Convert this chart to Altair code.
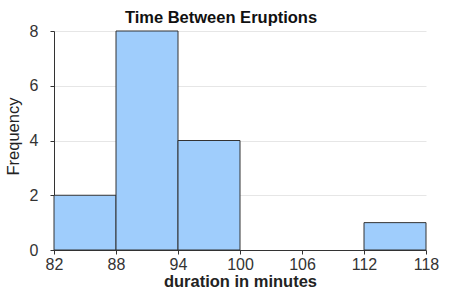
import altair as alt
import pandas as pd

bin_start = [82, 88, 94, 100, 106, 112]
bin_end = [88, 94, 100, 106, 112, 118]
counts = [2, 8, 4, 0, 0, 1]
x_ticks = [82, 88, 94, 100, 106, 112, 118]
y_ticks = [0, 2, 4, 6, 8]

df = pd.DataFrame({"start": bin_start, "end": bin_end, "count": counts})
df = df[df["count"] > 0]

font = "Liberation Sans"

chart = alt.Chart(df).mark_rect(
    fill="#9fcdfc", stroke="#333333", strokeWidth=1
).encode(
    x=alt.X("start:Q", scale=alt.Scale(domain=[82, 118], nice=False, zero=False),
            axis=alt.Axis(values=x_ticks, title="duration in minutes", grid=False,
                          labelFontSize=16, labelColor="#333333", labelFont=font,
                          titleFont=font, titleFontSize=16.5, titleFontWeight="bold",
                          titleColor="#222222", domainColor="#333333", tickColor="#333333",
                          tickSize=4, labelPadding=2, titlePadding=1, labelFlush=False)),
    x2="end:Q",
    y=alt.Y("count:Q", scale=alt.Scale(domain=[0, 8], nice=False),
            axis=alt.Axis(values=y_ticks, title="Frequency", grid=True, gridColor="#e6e6e6",
                          labelFontSize=16, labelColor="#333333", labelFont=font,
                          titleFont=font, titleFontSize=16.5, titleFontWeight="normal",
                          titleColor="#222222", domainColor="#333333", tickColor="#333333",
                          tickSize=4, labelPadding=12, titlePadding=8, titleY=105)),
).properties(
    width=372, height=219,
    title=alt.TitleParams("Time Between Eruptions", font=font, fontSize=16.5,
                          fontWeight="bold", color="#111111", anchor="middle", dx=-19, offset=-3),
    autosize=alt.AutoSizeParams(type="none"),
    padding={"left": 54, "top": 31, "right": 24, "bottom": 44},
).configure_view(stroke=None)

chart.save("out.html", embed_options={"renderer": "svg", "actions": False})
